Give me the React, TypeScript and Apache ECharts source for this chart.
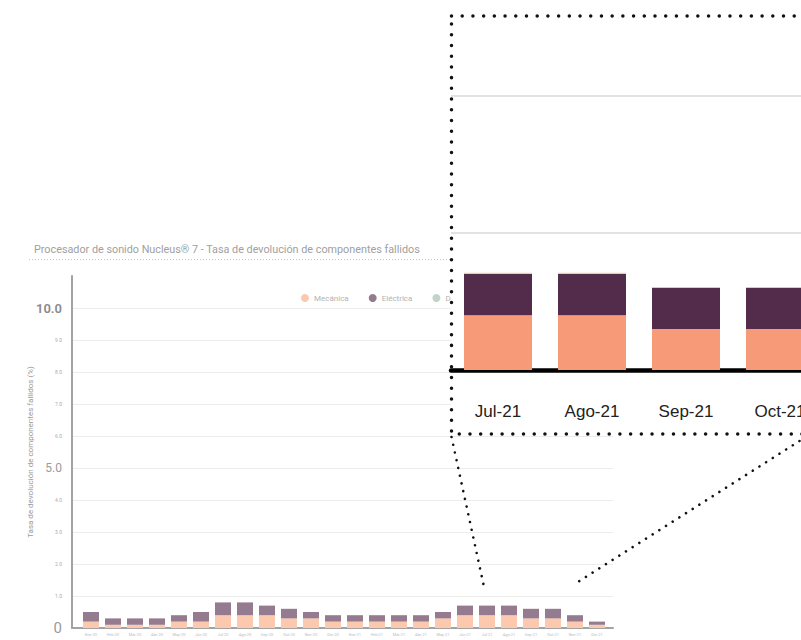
import React, { useEffect, useRef } from "react";
import * as echarts from "echarts";

const categories = [
  "Ene-20", "Feb-20", "Mar-20", "Abr-20", "May-20", "Jun-20",
  "Jul-20", "Ago-20", "Sep-20", "Oct-20", "Nov-20", "Dic-20",
  "Ene-21", "Feb-21", "Mar-21", "Abr-21", "May-21", "Jun-21",
  "Jul-21", "Ago-21", "Sep-21", "Oct-21", "Nov-21", "Dic-21",
];
const mecanica = [0.2, 0.1, 0.1, 0.1, 0.2, 0.2, 0.4, 0.4, 0.4, 0.3, 0.3, 0.2, 0.2, 0.2, 0.2, 0.2, 0.3, 0.4, 0.4, 0.4, 0.3, 0.3, 0.2, 0.1];
const electrica = [0.3, 0.2, 0.2, 0.2, 0.2, 0.3, 0.4, 0.4, 0.3, 0.3, 0.2, 0.2, 0.2, 0.2, 0.2, 0.2, 0.2, 0.3, 0.3, 0.3, 0.3, 0.3, 0.2, 0.1];
const desgaste = [0, 0, 0, 0, 0, 0, 0, 0, 0, 0, 0, 0, 0, 0, 0, 0, 0, 0, 0.01, 0.01, 0, 0, 0, 0];
const seriesNames = ["Mecánica", "Eléctrica", "Desgaste"];
const yTicks = [0, 1, 2, 3, 4, 5, 6, 7, 8, 9, 10];
const insetStart = 18; // Jul-21
const insetEnd = 22; // up to Oct-21

const TITLE = "Procesador de sonido Nucleus® 7 - Tasa de devolución de componentes fallidos";
const Y_NAME = "Tasa de devolución de componentes fallidos (%)";

export default function App() {
  const ref = useRef<HTMLDivElement>(null);
  useEffect(() => {
    document.body.style.margin = "0";
    const chart = echarts.init(ref.current!, null, { renderer: "svg" });
    const insetCats = categories.slice(insetStart, insetEnd);
    const option: any = {
      animation: false,
      textStyle: { fontFamily: "Roboto, sans-serif" },
      title: {
        text: TITLE,
        left: 29,
        top: 239,
        textStyle: { fontSize: 10.8, fontWeight: "normal", color: "#a0a0a0", fontFamily: "Roboto, sans-serif" },
      },
      legend: {
        data: seriesNames,
        left: 296,
        top: 289,
        icon: "circle",
        itemWidth: 8,
        itemHeight: 8,
        itemGap: 20,
        textStyle: { fontSize: 8, color: "#b3b3b3" },
      },
      grid: [
        { left: 72, top: 276, width: 541, height: 352, outerBoundsMode: "none" },
        { left: 80, top: 276, width: 528, height: 352, outerBoundsMode: "none" },
        { left: 451, top: 96, width: 376, height: 274, outerBoundsMode: "none" },
      ],
      xAxis: [
        {
          gridIndex: 0, type: "category", data: categories,
          axisLine: { lineStyle: { color: "#a3a3a3", width: 2 } },
          axisTick: { show: false }, axisLabel: { show: false }, splitLine: { show: false },
        },
        {
          gridIndex: 1, type: "category", data: categories,
          axisLine: { show: false }, axisTick: { show: false },
          axisLabel: { fontSize: 4, color: "#bbbbbb", margin: 4 },
        },
        {
          gridIndex: 2, type: "category", data: insetCats, z: 30,
          axisLine: { lineStyle: { color: "#000", width: 4.5 } },
          axisTick: { show: false },
          axisLabel: { interval: 0, fontSize: 17, color: "#222", margin: 33, fontFamily: "Liberation Sans, Arial, sans-serif" },
        },
      ],
      yAxis: [
        {
          gridIndex: 0, type: "value", min: 0, max: 11, interval: 1,
          name: Y_NAME, nameLocation: "middle", nameGap: 38, nameMoveOverlap: false,
          nameTextStyle: { fontSize: 8, color: "#9a9a9a" },
          axisLine: { show: true, lineStyle: { color: "#a3a3a3", width: 2 } },
          axisTick: { show: false },
          splitLine: { show: true, showMaxLine: false, lineStyle: { color: "#ececec", width: 1 } },
          axisLabel: {
            showMaxLabel: false,
            margin: 10,
            formatter: (v: number) => {
              if (!yTicks.includes(v)) return "";
              if (v === 0) return "{zero|0}";
              if (v === 5) return "{mid|5.0}";
              if (v === 10) return "{big|10.0}";
              return "{small|" + v.toFixed(1) + "}";
            },
            rich: {
              zero: { fontSize: 15, color: "#9a9a9a" },
              mid: { fontSize: 12, color: "#9a9a9a" },
              big: { fontSize: 13, fontWeight: 600, color: "#8a8a8a" },
              small: { fontSize: 5, color: "#aaaaaa" },
            },
          },
        },
        { gridIndex: 1, type: "value", min: 0, max: 11, show: false, splitLine: { show: false } },
        {
          gridIndex: 2, type: "value", min: 0, max: 2, interval: 1, z: 30,
          axisLine: { show: false }, axisTick: { show: false }, axisLabel: { show: false },
          splitLine: { show: true, lineStyle: { color: "#e2e2e2", width: 2 } },
        },
      ],
      series: [
        { name: seriesNames[0], type: "bar", stack: "m", xAxisIndex: 1, yAxisIndex: 1, barWidth: 16, data: mecanica, itemStyle: { color: "#fcc8ae" } },
        { name: seriesNames[1], type: "bar", stack: "m", xAxisIndex: 1, yAxisIndex: 1, barWidth: 16, data: electrica, itemStyle: { color: "#957b8f" } },
        { name: seriesNames[2], type: "bar", stack: "m", xAxisIndex: 1, yAxisIndex: 1, barWidth: 16, data: desgaste, itemStyle: { color: "#c2d3c8" } },
        { name: seriesNames[0], type: "bar", stack: "i", xAxisIndex: 2, yAxisIndex: 2, barWidth: 68, z: 30, data: mecanica.slice(insetStart, insetEnd), itemStyle: { color: "#f79a77" } },
        { name: seriesNames[1], type: "bar", stack: "i", xAxisIndex: 2, yAxisIndex: 2, barWidth: 68, z: 30, data: electrica.slice(insetStart, insetEnd), itemStyle: { color: "#532b4b" } },
        { name: seriesNames[2], type: "bar", stack: "i", xAxisIndex: 2, yAxisIndex: 2, barWidth: 68, z: 30, data: desgaste.slice(insetStart, insetEnd), itemStyle: { color: "#e3d6a6" } },
      ],
      graphic: [
        { type: "line", z: 5, shape: { x1: 29, y1: 259.5, x2: 451, y2: 259.5 }, style: { stroke: "#c4c4c4", lineWidth: 1, lineDash: [1, 2] } },
        { type: "rect", z: 20, shape: { x: 451, y: 16, width: 360, height: 418 }, style: { fill: "#ffffff" } },
        { type: "rect", z: 50, shape: { x: 451.5, y: 16, width: 400, height: 418 }, style: { fill: "none", stroke: "#111", lineWidth: 3.5, lineDash: [0.01, 10.7], lineCap: "round" } },
        { type: "line", z: 50, shape: { x1: 451.5, y1: 437, x2: 483.5, y2: 584.5 }, style: { stroke: "#111", lineWidth: 2.6, lineDash: [0.01, 7.9], lineCap: "round" } },
        { type: "line", z: 50, shape: { x1: 799.5, y1: 441, x2: 575.5, y2: 583.5 }, style: { stroke: "#111", lineWidth: 2.6, lineDash: [0.01, 7.9], lineCap: "round" } },
      ],
    };
    chart.setOption(option);
    return () => chart.dispose();
  }, []);
  return <div ref={ref} style={{ position: "fixed", left: 0, top: 0, width: 801, height: 640, background: "#fff" }} />;
}
